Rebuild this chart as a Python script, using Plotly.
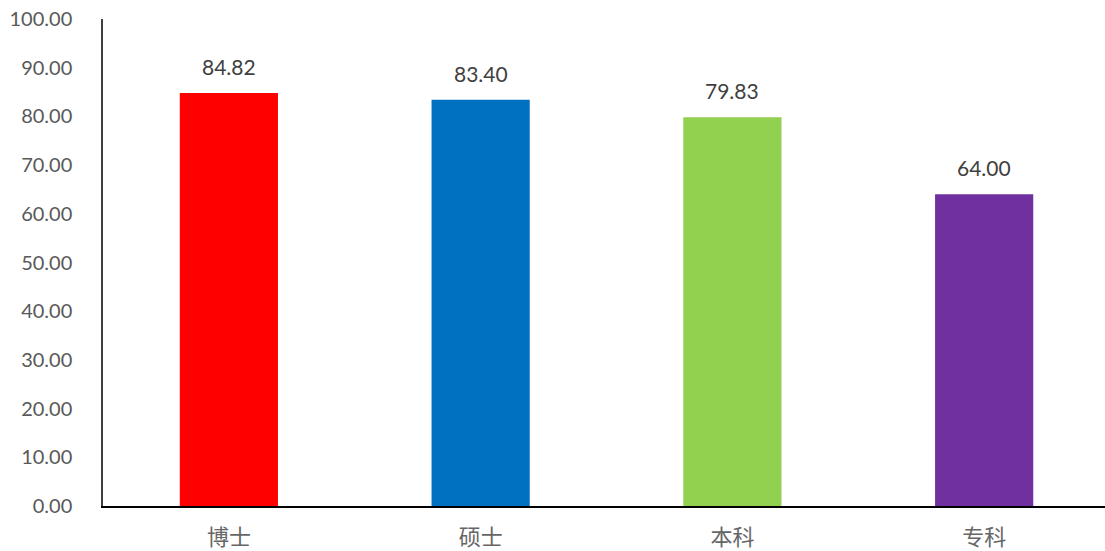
import plotly.graph_objects as go

categories = ["博士", "硕士", "本科", "专科"]
values = [84.82, 83.40, 79.83, 64.00]
bar_colors = ["#FF0000", "#0070C0", "#92D050", "#7030A0"]
y_ticks = [0, 10, 20, 30, 40, 50, 60, 70, 80, 90, 100]

fig = go.Figure(go.Bar(
    x=categories, y=values,
    marker={"color": bar_colors, "line": {"width": 0}},
    hoverinfo="x+y",
))

# value labels sit well above the bars, like the original
for c, v in zip(categories, values):
    fig.add_annotation(
        x=c, y=v, text=f"{v:.2f}", showarrow=False, yanchor="bottom", yshift=12,
        font={"family": "Lato, Open Sans, sans-serif", "size": 21, "color": "#404040"},
    )

fig.update_layout(
    width=1105, height=551,
    margin={"l": 103, "r": 0, "t": 19, "b": 40},
    paper_bgcolor="white", plot_bgcolor="white",
    bargap=0.61, showlegend=False,
)
fig.update_xaxes(
    range=[-0.5, 3.48], showline=True, linecolor="#000000", linewidth=2,
    ticks="", showgrid=False, ticklabelstandoff=11,
    tickfont={"family": "Noto Sans CJK SC", "size": 22, "color": "#666666"},
)
fig.update_yaxes(
    range=[0, 100], tickvals=y_ticks, ticktext=[f"{t:.2f}" for t in y_ticks],
    showline=True, linecolor="#404040", linewidth=1.5, showgrid=False, zeroline=False,
    ticks="", ticklabelstandoff=25,
    tickfont={"family": "Lato, Open Sans, sans-serif", "size": 20, "color": "#595959"},
)

fig.write_html("out.html", config={"displayModeBar": False},
               post_script="document.body.style.margin='0';")
